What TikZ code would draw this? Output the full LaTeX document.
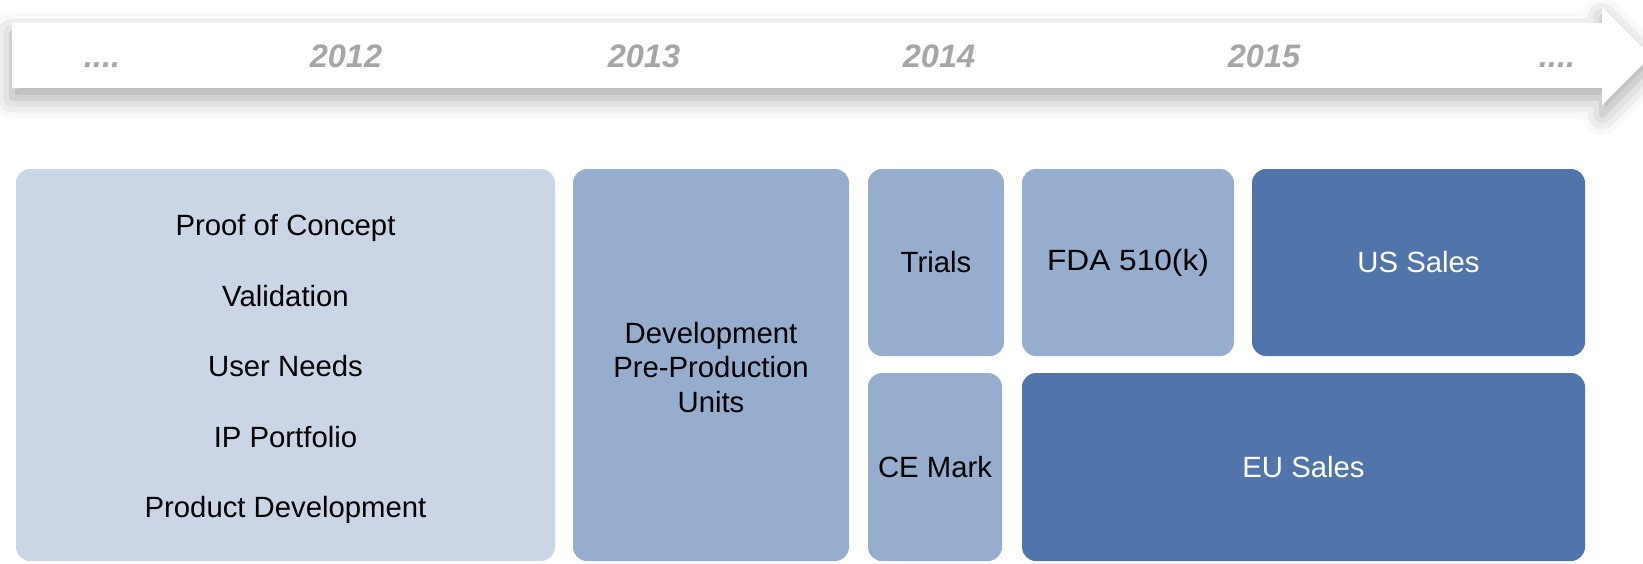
\documentclass[tikz,border=0pt]{standalone}
\usepackage{fontspec}
\setmainfont{Liberation Sans}
\newfontfamily\widesans[FakeStretch=1.08]{Liberation Sans}
\usetikzlibrary{shadows.blur}
\definecolor{lightbox}{HTML}{CAD5E6}
\definecolor{midbox}{HTML}{97ADCD}
\definecolor{darkbox}{HTML}{5175AA}
\definecolor{yeargrey}{HTML}{A6A6A6}
\tikzset{
  phase/.style={rectangle, rounded corners=14pt, inner sep=0pt, draw=none,
    font=\fontsize{29.3}{34}\selectfont, align=center},
  lightphase/.style={phase, fill=lightbox, text=black},
  midphase/.style={phase, fill=midbox, text=black},
  darkphase/.style={phase, fill=darkbox, text=white},
  year/.style={font=\fontsize{32.5}{38}\selectfont\bfseries\itshape, text=yeargrey,
    inner sep=0pt, anchor=base}
}
\begin{document}
\begin{tikzpicture}[x=1pt,y=-1pt]
\useasboundingbox (0,0) rectangle (1643,563);
\clip (0,0) rectangle (1643,563);
% timeline arrow
\fill[white, blur shadow={shadow xshift=0pt, shadow yshift=-10pt, shadow blur radius=20pt, shadow opacity=35}]
  (12,23) -- (1602,23) -- (1602,7) -- (1651,56) -- (1602,105) -- (1602,88) -- (12,88) -- cycle;
\node[year] (ya) at (102,67) {....};
\node[year] (yb) at (346,67) {2012};
\node[year] (yc) at (644,67) {2013};
\node[year] (yd) at (939,67) {2014};
\node[year] (ye) at (1264,67) {2015};
\node[year] (yf) at (1557,67) {....};
% phases
\node[lightphase, minimum width=539, minimum height=392, font=\fontsize{29.3}{70.5}\selectfont] (concept) at (285.5,365)
  {\rule{0pt}{30pt}Proof of Concept\\Validation\\User Needs\\IP Portfolio\\Product Development};
\node[midphase, minimum width=276, minimum height=392, font=\fontsize{29.3}{34.5}\selectfont] (dev) at (711,365)
  {\rule{0pt}{26pt}Development\\Pre-Production\\Units};
\node[midphase, minimum width=136, minimum height=187] (trials) at (936,262.5) {Trials};
\node[midphase, minimum width=134, minimum height=188] (ce) at (935,467) {CE Mark};
\node[midphase, minimum width=212, minimum height=187, font=\widesans\fontsize{29.3}{34}\selectfont] (fda) at (1128,262.5) {FDA 510(k)};
\node[darkphase, minimum width=333, minimum height=187] (us) at (1418.5,262.5) {US Sales};
\node[darkphase, minimum width=563, minimum height=188] (eu) at (1303.5,467) {EU Sales};
\end{tikzpicture}
\end{document}
